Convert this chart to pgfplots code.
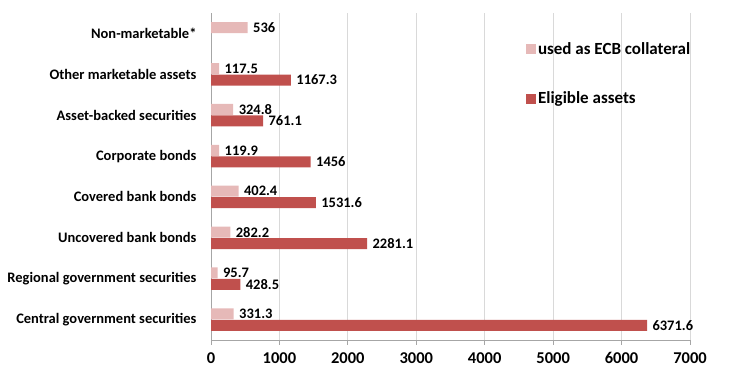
\documentclass[border=0pt]{standalone}
\usepackage{fontspec}
\setmainfont{Carlito}
\usepackage{pgfplots}
\pgfplotsset{compat=1.18}
\definecolor{darkbar}{HTML}{C0504D}
\definecolor{lightbar}{HTML}{E6B9B8}
\definecolor{gridc}{HTML}{D9D9D9}
\definecolor{axc}{HTML}{A6A6A6}
\begin{document}
\begin{tikzpicture}
\path (0,0) rectangle (730pt,385pt);
\begin{axis}[
  at={(211pt,45pt)}, anchor=south west,
  scale only axis, width=479pt, height=327pt,
  xbar, bar width=11pt,
  xmin=0, xmax=7000, ymin=-0.5, ymax=7.5,
  axis lines=left, axis line style={axc, line width=0.8pt, -},
  xtick={0,1000,...,7000},
  xmajorgrids, major grid style={gridc, line width=0.8pt},
  x tick label style={font=\fontsize{16.5}{18}\selectfont\bfseries, yshift=-4pt},
  /pgf/number format/assume math mode=true,
  /pgf/number format/1000 sep={},
  xtick style={axc, line width=0.8pt},
  tick align=outside, major tick length=5pt,
  ytick={0,...,7},
  yticklabels={Central government securities, Regional government securities, Uncovered bank bonds, Covered bank bonds, Corporate bonds, Asset-backed securities, Other marketable assets, Non-marketable*},
  y tick label style={font=\fontsize{14.5}{16}\selectfont\bfseries, xshift=-6pt},
  ytick style={draw=none},
  extra y ticks={-0.5,0.5,...,7.5},
  extra y tick labels={},
  extra y tick style={ytick style={axc, line width=0.8pt}, major tick length=5pt, tick align=outside, grid=none},
  nodes near coords,
  point meta=explicit symbolic,
  every node near coord/.append style={font=\fontsize{14.5}{16}\selectfont\bfseries, anchor=west, xshift=2pt},
  legend style={at={(0.651,0.923)}, anchor=north west, draw=none, fill=none,
    font=\fontsize{17}{19}\selectfont\bfseries, row sep=32pt, legend cell align=left},
  legend image code/.code={\fill[#1] (0pt,-5pt) rectangle (10pt,5pt);},
  clip=false,
]
\addplot[fill=lightbar, draw=none, bar shift=5.75pt] coordinates {
  (331.3,0) [331.3]
  (95.7,1) [95.7]
  (282.2,2) [282.2]
  (402.4,3) [402.4]
  (119.9,4) [119.9]
  (324.8,5) [324.8]
  (117.5,6) [117.5]
  (536,7) [536]
};
\addplot[fill=darkbar, draw=none, bar shift=-5.75pt] coordinates {
  (6371.6,0) [6371.6]
  (428.5,1) [428.5]
  (2281.1,2) [2281.1]
  (1531.6,3) [1531.6]
  (1456,4) [1456]
  (761.1,5) [761.1]
  (1167.3,6) [1167.3]
};
\legend{used as ECB collateral, Eligible assets}
\end{axis}
\end{tikzpicture}
\end{document}
